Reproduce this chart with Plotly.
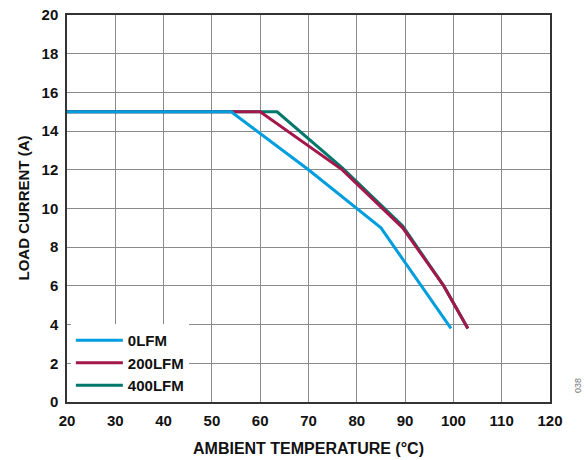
import plotly.graph_objects as go

# Data
temp_0lfm = [20, 54, 70, 85, 99.5]
curr_0lfm = [15, 15, 12, 9, 3.8]

temp_200lfm = [20, 60, 77, 89.5, 98, 103]
curr_200lfm = [15, 15, 12, 9, 6, 3.8]

temp_400lfm = [20, 63.5, 77, 89.5, 98, 103]
curr_400lfm = [15, 15, 12.1, 9.1, 6, 3.8]

x_ticks = [20, 30, 40, 50, 60, 70, 80, 90, 100, 110, 120]
y_ticks = [0, 2, 4, 6, 8, 10, 12, 14, 16, 18, 20]

BLUE = "#009ede"
RED = "#a3174b"
GREEN = "#00776b"
FONT = "Liberation Sans, Arial, sans-serif"
TXT = "#111111"

fig = go.Figure()
fig.add_trace(go.Scatter(x=temp_400lfm, y=curr_400lfm, mode="lines", name="400LFM",
                         line=dict(color=GREEN, width=3), legendrank=3))
fig.add_trace(go.Scatter(x=temp_200lfm, y=curr_200lfm, mode="lines", name="200LFM",
                         line=dict(color=RED, width=3), legendrank=2))
fig.add_trace(go.Scatter(x=temp_0lfm, y=curr_0lfm, mode="lines", name="0LFM",
                         line=dict(color=BLUE, width=3), legendrank=1))

axis_common = dict(
    showgrid=True, gridcolor="#8a8a8a", gridwidth=1,
    showline=True, linecolor="#333333", linewidth=1.5, mirror=True,
    ticks="", zeroline=False, automargin=False, ticklabeloverflow="allow",
    tickfont=dict(family=FONT, size=15, color=TXT, weight="bold"),
)

fig.update_layout(
    width=584, height=460,
    margin=dict(l=67, r=34, t=15, b=58),
    paper_bgcolor="white", plot_bgcolor="white",
    font=dict(family=FONT, color=TXT),
    showlegend=True,
    legend=dict(x=0.008, y=0.0, xanchor="left", yanchor="bottom",
                bgcolor="white", borderwidth=0,
                font=dict(family=FONT, size=15, color=TXT, weight="bold"),
                tracegroupgap=0, itemwidth=47),
    xaxis=dict(range=[20, 120], tickvals=x_ticks, ticklabelstandoff=4, **axis_common),
    yaxis=dict(range=[0, 20], tickvals=y_ticks, ticklabelstandoff=4, **axis_common),
)

# Axis titles
fig.add_annotation(text="AMBIENT TEMPERATURE (°C)", xref="paper", yref="paper",
                   x=0.5, y=-46 / 387, yanchor="middle", showarrow=False,
                   font=dict(family=FONT, size=16, color=TXT, weight="bold"))
fig.add_annotation(text="LOAD CURRENT (A)", xref="paper", yref="paper",
                   x=-44 / 483, y=0.5, xanchor="center", yanchor="middle",
                   showarrow=False, textangle=-90,
                   font=dict(family=FONT, size=15, color=TXT, weight="bold"))

fig.add_annotation(text="038", xref="paper", yref="paper", x=(578 - 67) / 483,
                   y=16 / 387, xanchor="center", yanchor="middle",
                   showarrow=False, textangle=-90,
                   font=dict(family=FONT, size=9, color="#777777"))

fig.write_html("out.html", config={"displayModeBar": False},
               post_script="document.body.style.margin='0';")
